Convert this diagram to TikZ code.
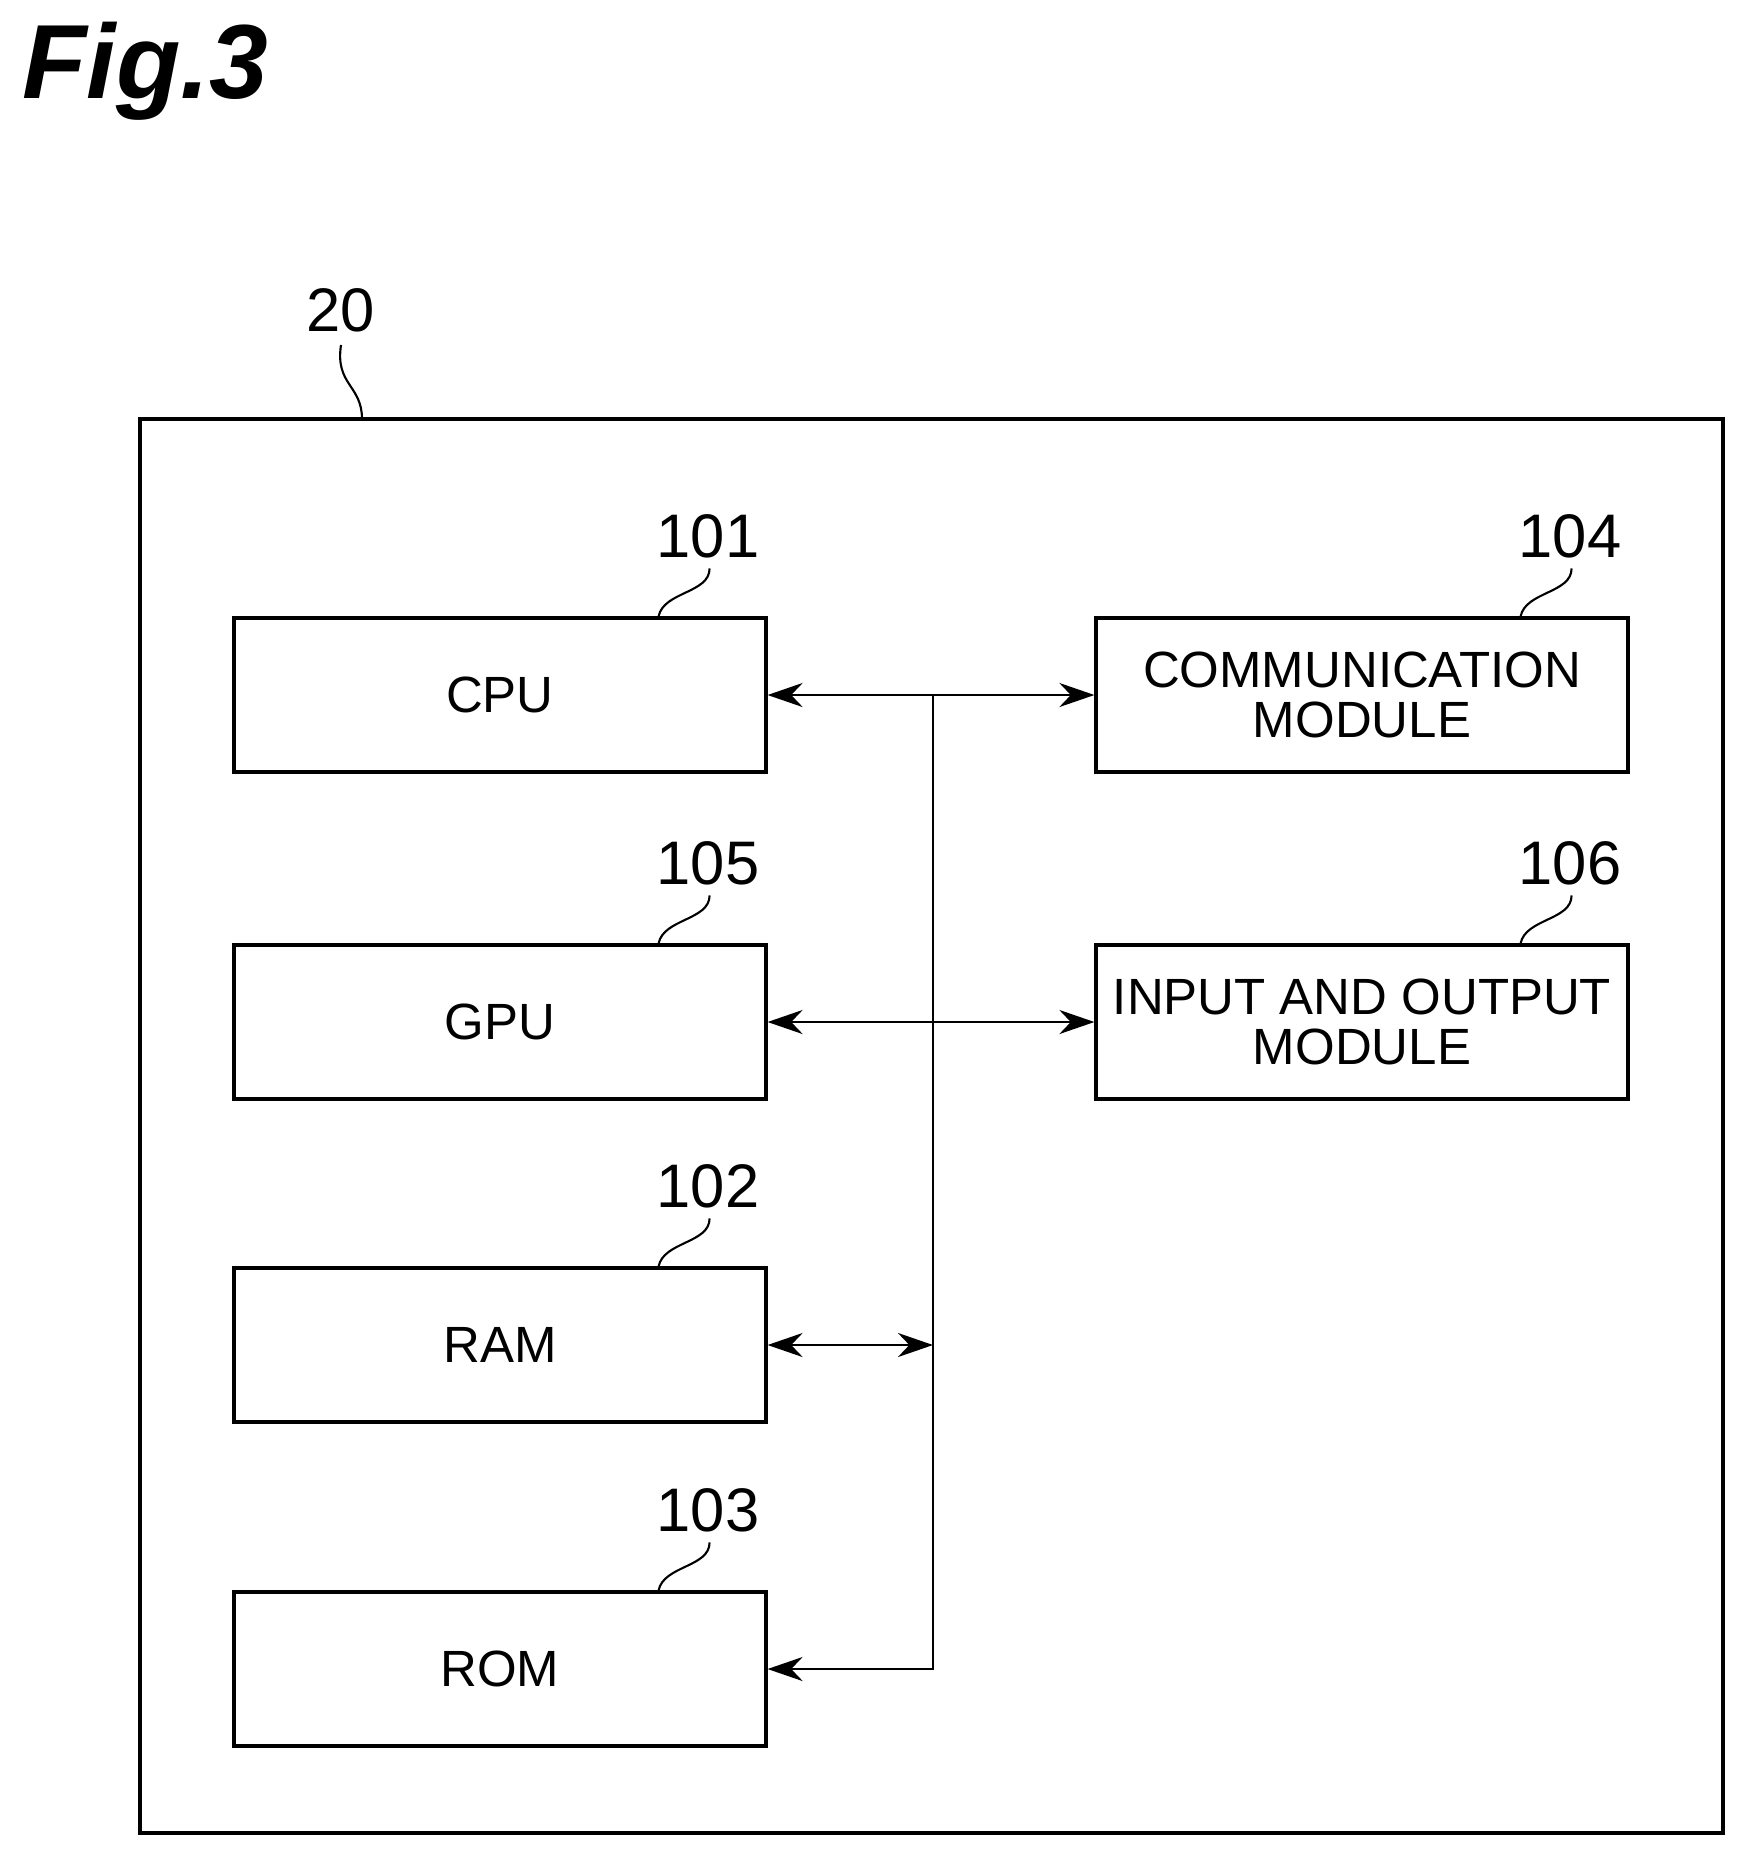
\documentclass[tikz,border=0pt]{standalone}
\usepackage{fontspec}
\setmainfont{Liberation Sans}
\usetikzlibrary{arrows.meta}

\begin{document}
\begin{tikzpicture}[x=1cm,y=-1cm]
    \tikzset{BlocStyle/.style = {draw,line width=0.9pt,minimum width=5.32cm,minimum height=1.54cm,
      align=center,font=\fontsize{14.5}{17}\selectfont,inner sep=0pt}}
    \tikzset{RefStyle/.style = {font=\fontsize{17.5}{20}\selectfont}}
    \tikzset{LienStyle/.style = {line width=0.8pt,{Stealth[length=3.5mm,width=2.4mm]}-{Stealth[length=3.5mm,width=2.4mm]}}}
    \tikzset{Serpent/.style = {line width=0.6pt}}

    \useasboundingbox (0,0) rectangle (17.47,18.58);

    \node[anchor=north west,font=\bfseries\itshape\fontsize{30}{32}\selectfont] (titre) at (0.1,0.1) {Fig.3};

    % boitier
    \draw[line width=0.9pt] (1.40,4.19) rectangle (17.23,18.33);
    \coordinate (boite) at (3.62,4.19);
    \node[RefStyle] (r20) at (3.41,3.10) {20};
    \draw[Serpent] (boite) .. controls (3.62,3.85) and (3.35,3.85) .. (3.41,3.45);

    % blocs
    \node[BlocStyle] (cpu) at (5.00,6.95) {CPU};
    \node[BlocStyle] (gpu) at (5.00,10.22) {GPU};
    \node[BlocStyle] (ram) at (5.00,13.45) {RAM};
    \node[BlocStyle] (rom) at (5.00,16.69) {ROM};
    \node[BlocStyle] (com) at (13.62,6.95) {COMMUNICATION\\[-3pt]MODULE};
    \node[BlocStyle] (io)  at (13.62,10.22) {INPUT AND OUTPUT\\[-3pt]MODULE};

    % reperes
    \foreach \b/\t in {cpu/101, gpu/105, ram/102, rom/103, com/104, io/106} {
      \node[RefStyle] (r\t) at ([xshift=2.08cm,yshift=0.80cm]\b.north) {\t};
      \draw[Serpent] ([xshift=-1.09cm]\b.north east) .. controls ++(0.05,-0.25) and ++(0,0.25) .. ([xshift=-0.58cm,yshift=0.48cm]\b.north east);
    }

    % bus
    \coordinate (haut) at (9.33,6.95);
    \coordinate (mil) at (9.33,13.45);
    \coordinate (bas) at (9.33,16.69);
    \draw[LienStyle] (cpu.east) -- (com.west);
    \draw[LienStyle] (gpu.east) -- (io.west);
    \draw[LienStyle] (ram.east) -- (mil);
    \draw[line width=0.8pt,-{Stealth[length=3.5mm,width=2.4mm]}] (haut) -- (bas) -- (rom.east);
\end{tikzpicture}
\end{document}
